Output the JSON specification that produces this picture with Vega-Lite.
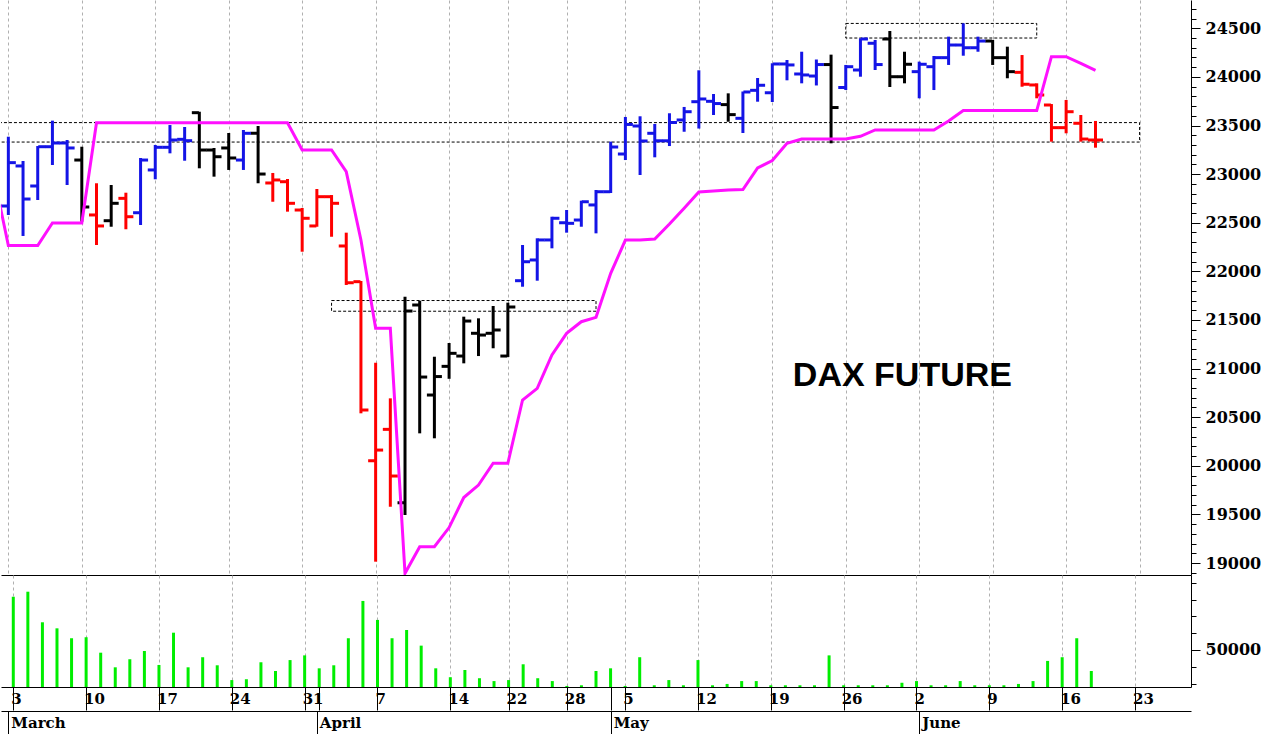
{
  "$schema": "https://vega.github.io/schema/vega-lite/v6.json",
  "padding": 0,
  "background": "white",
  "spacing": 0,
  "config": {"view": {"stroke": null}, "concat": {"spacing": 0}, "axis": {"domainColor": "black", "tickColor": "black"}},
  "datasets": {
    "bars": [
      {"i":0,"date":"2025-03-03","o":22672,"h":23385,"l":22580,"c":23118,"v":81700,"t":"up"},
      {"i":1,"date":"2025-03-04","o":23084,"h":23135,"l":22364,"c":22744,"v":84700,"t":"up"},
      {"i":2,"date":"2025-03-05","o":22878,"h":23289,"l":22734,"c":23282,"v":66500,"t":"up"},
      {"i":3,"date":"2025-03-06","o":23282,"h":23550,"l":23094,"c":23320,"v":62900,"t":"up"},
      {"i":4,"date":"2025-03-07","o":23320,"h":23351,"l":22888,"c":23269,"v":57000,"t":"up"},
      {"i":5,"date":"2025-03-10","o":23145,"h":23282,"l":22511,"c":22662,"v":57600,"t":"flat"},
      {"i":6,"date":"2025-03-11","o":22580,"h":22906,"l":22271,"c":22467,"v":48400,"t":"down"},
      {"i":7,"date":"2025-03-12","o":22521,"h":22888,"l":22459,"c":22700,"v":39700,"t":"flat"},
      {"i":8,"date":"2025-03-13","o":22751,"h":22809,"l":22433,"c":22562,"v":44500,"t":"down"},
      {"i":9,"date":"2025-03-14","o":22603,"h":23166,"l":22477,"c":23145,"v":49400,"t":"up"},
      {"i":10,"date":"2025-03-17","o":23043,"h":23300,"l":22947,"c":23276,"v":41100,"t":"up"},
      {"i":11,"date":"2025-03-18","o":23276,"h":23505,"l":23214,"c":23351,"v":60300,"t":"up"},
      {"i":12,"date":"2025-03-19","o":23358,"h":23485,"l":23138,"c":23344,"v":39700,"t":"up"},
      {"i":13,"date":"2025-03-20","o":23632,"h":23642,"l":23060,"c":23248,"v":45700,"t":"flat"},
      {"i":14,"date":"2025-03-21","o":23248,"h":23269,"l":22974,"c":23179,"v":40900,"t":"flat"},
      {"i":15,"date":"2025-03-24","o":23269,"h":23423,"l":23043,"c":23166,"v":32100,"t":"flat"},
      {"i":16,"date":"2025-03-25","o":23145,"h":23454,"l":23043,"c":23420,"v":32600,"t":"up"},
      {"i":17,"date":"2025-03-26","o":23420,"h":23495,"l":22906,"c":23001,"v":42700,"t":"flat"},
      {"i":18,"date":"2025-03-27","o":22909,"h":23012,"l":22716,"c":22940,"v":37500,"t":"down"},
      {"i":19,"date":"2025-03-28","o":22922,"h":22950,"l":22614,"c":22700,"v":44000,"t":"down"},
      {"i":20,"date":"2025-03-31","o":22631,"h":22652,"l":22202,"c":22546,"v":46800,"t":"down"},
      {"i":21,"date":"2025-04-01","o":22467,"h":22847,"l":22459,"c":22768,"v":39100,"t":"down"},
      {"i":22,"date":"2025-04-02","o":22768,"h":22785,"l":22356,"c":22700,"v":40900,"t":"down"},
      {"i":23,"date":"2025-04-03","o":22261,"h":22398,"l":21860,"c":21883,"v":57000,"t":"down"},
      {"i":24,"date":"2025-04-04","o":21894,"h":21901,"l":20540,"c":20574,"v":79200,"t":"down"},
      {"i":25,"date":"2025-04-07","o":20052,"h":21060,"l":19014,"c":20162,"v":67900,"t":"down"},
      {"i":26,"date":"2025-04-08","o":20375,"h":20694,"l":19579,"c":19895,"v":57000,"t":"down"},
      {"i":27,"date":"2025-04-09","o":19620,"h":21739,"l":19494,"c":21592,"v":61900,"t":"flat"},
      {"i":28,"date":"2025-04-10","o":21654,"h":21698,"l":20334,"c":20913,"v":52600,"t":"flat"},
      {"i":29,"date":"2025-04-11","o":20728,"h":21122,"l":20283,"c":20918,"v":39100,"t":"flat"},
      {"i":30,"date":"2025-04-14","o":21023,"h":21263,"l":20895,"c":21157,"v":33800,"t":"flat"},
      {"i":31,"date":"2025-04-15","o":21129,"h":21534,"l":21054,"c":21489,"v":38100,"t":"flat"},
      {"i":32,"date":"2025-04-16","o":21363,"h":21517,"l":21129,"c":21345,"v":33200,"t":"flat"},
      {"i":33,"date":"2025-04-17","o":21363,"h":21644,"l":21209,"c":21397,"v":31500,"t":"flat"},
      {"i":34,"date":"2025-04-22","o":21129,"h":21678,"l":21120,"c":21633,"v":32100,"t":"flat"},
      {"i":35,"date":"2025-04-23","o":21904,"h":22271,"l":21842,"c":22099,"v":41500,"t":"up"},
      {"i":36,"date":"2025-04-24","o":22117,"h":22340,"l":21904,"c":22323,"v":33200,"t":"up"},
      {"i":37,"date":"2025-04-25","o":22323,"h":22562,"l":22237,"c":22546,"v":31500,"t":"up"},
      {"i":38,"date":"2025-04-28","o":22500,"h":22631,"l":22398,"c":22494,"v":28600,"t":"up"},
      {"i":39,"date":"2025-04-29","o":22528,"h":22727,"l":22459,"c":22716,"v":29000,"t":"up"},
      {"i":40,"date":"2025-04-30","o":22683,"h":22837,"l":22391,"c":22819,"v":37500,"t":"up"},
      {"i":41,"date":"2025-05-02","o":22819,"h":23334,"l":22806,"c":23279,"v":39100,"t":"up"},
      {"i":42,"date":"2025-05-05","o":23207,"h":23588,"l":23145,"c":23511,"v":28600,"t":"up"},
      {"i":43,"date":"2025-05-06","o":23495,"h":23595,"l":22991,"c":23341,"v":45700,"t":"up"},
      {"i":44,"date":"2025-05-07","o":23420,"h":23516,"l":23173,"c":23343,"v":29000,"t":"up"},
      {"i":45,"date":"2025-05-08","o":23343,"h":23626,"l":23289,"c":23531,"v":32100,"t":"up"},
      {"i":46,"date":"2025-05-09","o":23557,"h":23691,"l":23436,"c":23642,"v":29000,"t":"up"},
      {"i":47,"date":"2025-05-12","o":23745,"h":24068,"l":23469,"c":23773,"v":44000,"t":"up"},
      {"i":48,"date":"2025-05-13","o":23749,"h":23824,"l":23608,"c":23726,"v":29000,"t":"up"},
      {"i":49,"date":"2025-05-14","o":23715,"h":23831,"l":23539,"c":23612,"v":29800,"t":"flat"},
      {"i":50,"date":"2025-05-15","o":23574,"h":23850,"l":23423,"c":23845,"v":31500,"t":"up"},
      {"i":51,"date":"2025-05-16","o":23862,"h":23989,"l":23745,"c":23914,"v":31500,"t":"up"},
      {"i":52,"date":"2025-05-19","o":23837,"h":24140,"l":23742,"c":24133,"v":29000,"t":"up"},
      {"i":53,"date":"2025-05-20","o":24133,"h":24174,"l":23965,"c":24123,"v":29000,"t":"up"},
      {"i":54,"date":"2025-05-21","o":24030,"h":24259,"l":23934,"c":24020,"v":29000,"t":"up"},
      {"i":55,"date":"2025-05-22","o":24009,"h":24179,"l":23912,"c":24127,"v":29000,"t":"up"},
      {"i":56,"date":"2025-05-23","o":24127,"h":24229,"l":23317,"c":23685,"v":46800,"t":"flat"},
      {"i":57,"date":"2025-05-26","o":23891,"h":24123,"l":23865,"c":24105,"v":29000,"t":"up"},
      {"i":58,"date":"2025-05-27","o":24071,"h":24397,"l":24002,"c":24390,"v":29000,"t":"up"},
      {"i":59,"date":"2025-05-28","o":24346,"h":24380,"l":24071,"c":24127,"v":29000,"t":"up"},
      {"i":60,"date":"2025-05-29","o":24390,"h":24472,"l":23896,"c":24002,"v":29000,"t":"flat"},
      {"i":61,"date":"2025-05-30","o":24002,"h":24259,"l":23934,"c":24130,"v":30500,"t":"flat"},
      {"i":62,"date":"2025-06-02","o":24054,"h":24157,"l":23780,"c":24130,"v":31500,"t":"up"},
      {"i":63,"date":"2025-06-03","o":24105,"h":24215,"l":23865,"c":24198,"v":29000,"t":"up"},
      {"i":64,"date":"2025-06-04","o":24198,"h":24414,"l":24123,"c":24328,"v":29000,"t":"up"},
      {"i":65,"date":"2025-06-05","o":24328,"h":24551,"l":24218,"c":24300,"v":31500,"t":"up"},
      {"i":66,"date":"2025-06-06","o":24300,"h":24414,"l":24259,"c":24369,"v":29000,"t":"up"},
      {"i":67,"date":"2025-06-09","o":24369,"h":24380,"l":24123,"c":24198,"v":29000,"t":"flat"},
      {"i":68,"date":"2025-06-10","o":24198,"h":24311,"l":23986,"c":24054,"v":29000,"t":"flat"},
      {"i":69,"date":"2025-06-11","o":24047,"h":24225,"l":23899,"c":23924,"v":29800,"t":"down"},
      {"i":70,"date":"2025-06-12","o":23917,"h":23934,"l":23780,"c":23814,"v":31500,"t":"down"},
      {"i":71,"date":"2025-06-13","o":23711,"h":23721,"l":23334,"c":23478,"v":43500,"t":"down"},
      {"i":72,"date":"2025-06-16","o":23478,"h":23763,"l":23420,"c":23642,"v":45700,"t":"down"},
      {"i":73,"date":"2025-06-17","o":23523,"h":23608,"l":23334,"c":23361,"v":57000,"t":"down"},
      {"i":74,"date":"2025-06-18","o":23351,"h":23547,"l":23272,"c":23351,"v":37500,"t":"down"}
    ],
    "stop": [
      {"i":-1,"s":22991},{"i":0,"s":22266},{"i":1,"s":22266},{"i":2,"s":22266},{"i":3,"s":22497},{"i":4,"s":22497},{"i":5,"s":22497},
      {"i":6,"s":23529},{"i":7,"s":23529},{"i":8,"s":23529},{"i":9,"s":23529},{"i":10,"s":23529},{"i":11,"s":23529},{"i":12,"s":23529},
      {"i":13,"s":23529},{"i":14,"s":23529},{"i":15,"s":23529},{"i":16,"s":23529},{"i":17,"s":23529},{"i":18,"s":23529},{"i":19,"s":23529},
      {"i":20,"s":23248},{"i":21,"s":23248},{"i":22,"s":23248},{"i":23,"s":23025},{"i":24,"s":22322},{"i":25,"s":21414},{"i":26,"s":21414},
      {"i":27,"s":18894},{"i":28,"s":19168},{"i":29,"s":19168},{"i":30,"s":19365},{"i":31,"s":19674},{"i":32,"s":19802},{"i":33,"s":20026},
      {"i":34,"s":20026},{"i":35,"s":20677},{"i":36,"s":20797},{"i":37,"s":21140},{"i":38,"s":21363},{"i":39,"s":21482},{"i":40,"s":21527},
      {"i":41,"s":21980},{"i":42,"s":22322},{"i":43,"s":22322},{"i":44,"s":22333},{"i":45,"s":22487},{"i":46,"s":22649},{"i":47,"s":22816},
      {"i":48,"s":22826},{"i":49,"s":22837},{"i":50,"s":22842},{"i":51,"s":23063},{"i":52,"s":23140},{"i":53,"s":23317},{"i":54,"s":23361},
      {"i":55,"s":23361},{"i":56,"s":23361},{"i":57,"s":23361},{"i":58,"s":23389},{"i":59,"s":23454},{"i":60,"s":23454},{"i":61,"s":23454},
      {"i":62,"s":23454},{"i":63,"s":23454},{"i":64,"s":23546},{"i":65,"s":23654},{"i":66,"s":23654},{"i":67,"s":23654},{"i":68,"s":23654},
      {"i":69,"s":23654},{"i":70,"s":23654},{"i":71,"s":24208},{"i":72,"s":24208},{"i":73,"s":24140},{"i":74,"s":24068}
    ],
    "boxes": [
      {"x1":-2,"x2":77,"p1":23330,"p2":23530},
      {"x1":22,"x2":40,"p1":21590,"p2":21700},
      {"x1":57,"x2":70,"p1":24400,"p2":24550}
    ],
    "months": [
      {"i":0,"m":"March"},{"i":21,"m":"April"},{"i":41,"m":"May"},{"i":62,"m":"June"}
    ]
  },
  "vconcat": [
    {
      "width": 1190,
      "height": 575,
      "resolve": {"scale": {"y": "shared", "x": "shared"}, "axis": {"y": "independent"}},
      "layer": [
        {
          "data": {"name": "boxes"},
          "mark": {"type": "rect", "filled": false, "color": "black", "strokeDash": [3, 2], "strokeWidth": 1, "clip": true},
          "encoding": {
            "x": {"field": "x1", "type": "quantitative", "scale": {"domain": [-0.5, 80.5], "nice": false, "zero": false},
                  "axis": {"values": [0,5,10,15,20,25,30,34,38,42,47,52,57,62,67,72,77], "grid": true, "gridColor": "#b0b0b0", "gridDash": [3,3], "ticks": false, "labels": false, "domain": true, "domainColor": "black", "title": null}},
            "x2": {"field": "x2"},
            "y": {"field": "p1", "type": "quantitative", "scale": {"domain": [18877, 24791], "nice": false, "zero": false},
                  "axis": {"orient": "right", "title": null, "grid": false,
                           "values": [19000,19500,20000,20500,21000,21500,22000,22500,23000,23500,24000,24500],
                           "format": "d", "tickSize": 9,
                           "labelPadding": 5, "labelFont": "DejaVu Serif", "labelFontWeight": "bold", "labelFontSize": 16, "labelColor": "black",
                           "labelOverlap": false, "labelBound": false}},
            "y2": {"field": "p2"}
          }
        },
        {
          "data": {"name": "bars"},
          "mark": {"type": "rule", "strokeWidth": 3},
          "encoding": {
            "x": {"field": "i", "type": "quantitative"},
            "y": {"field": "l", "type": "quantitative",
                  "axis": {"orient": "right", "title": null, "grid": false, "labels": false, "domain": false, "tickSize": 5,
                           "values": [18900,19000,19100,19200,19300,19400,19500,19600,19700,19800,19900,20000,20100,20200,20300,20400,20500,20600,20700,20800,20900,21000,21100,21200,21300,21400,21500,21600,21700,21800,21900,22000,22100,22200,22300,22400,22500,22600,22700,22800,22900,23000,23100,23200,23300,23400,23500,23600,23700,23800,23900,24000,24100,24200,24300,24400,24500,24600,24700]}},
            "y2": {"field": "h"},
            "color": {"field": "t", "type": "nominal", "scale": {"domain": ["up", "down", "flat"], "range": ["#1414e6", "#ff0000", "#000000"]}, "legend": null}
          }
        },
        {
          "data": {"name": "bars"},
          "mark": {"type": "tick", "orient": "horizontal", "thickness": 3, "size": 7, "xOffset": -4, "opacity": 1},
          "encoding": {
            "x": {"field": "i", "type": "quantitative"},
            "y": {"field": "o", "type": "quantitative", "axis": null},
            "color": {"field": "t", "type": "nominal", "legend": null}
          }
        },
        {
          "data": {"name": "bars"},
          "mark": {"type": "tick", "orient": "horizontal", "thickness": 3, "size": 7, "xOffset": 4, "opacity": 1},
          "encoding": {
            "x": {"field": "i", "type": "quantitative"},
            "y": {"field": "c", "type": "quantitative", "axis": null},
            "color": {"field": "t", "type": "nominal", "legend": null}
          }
        },
        {
          "data": {"name": "stop"},
          "mark": {"type": "line", "color": "#ff10ff", "strokeWidth": 3, "clip": true},
          "encoding": {
            "x": {"field": "i", "type": "quantitative"},
            "y": {"field": "s", "type": "quantitative", "axis": null}
          }
        },
        {
          "data": {"values": [{}]},
          "mark": {"type": "text", "text": "DAX FUTURE", "font": "Liberation Sans", "fontWeight": "bold", "fontSize": 34, "align": "left", "baseline": "middle", "color": "black"},
          "encoding": {
            "x": {"datum": 53.4, "type": "quantitative"},
            "y": {"datum": 20923, "type": "quantitative", "axis": null}
          }
        }
      ]
    },
    {
      "width": 1190,
      "height": 112,
      "data": {"name": "bars"},
      "mark": {"type": "bar", "size": 3, "color": "#00ee00", "clip": true},
      "encoding": {
        "x": {"field": "i", "type": "quantitative", "scale": {"domain": [-0.5, 80.5], "nice": false, "zero": false},
              "axis": {"values": [0,5,10,15,20,21,25,30,34,38,41,42,47,52,57,62,67,72,77],
                       "labelExpr": "datum.value==0?'3':datum.value==5?'10':datum.value==10?'17':datum.value==15?'24':datum.value==20?'31':datum.value==25?'7':datum.value==30?'14':datum.value==34?'22':datum.value==38?'28':datum.value==42?'5':datum.value==47?'12':datum.value==52?'19':datum.value==57?'26':datum.value==62?'2':datum.value==67?'9':datum.value==72?'16':datum.value==77?'23':''",
                       "grid": true, "gridColor": "#b0b0b0", "gridDash": [3,3],
                       "gridOpacity": {"condition": {"test": "datum.value == 21 || datum.value == 41", "value": 0}, "value": 1},
                       "tickSize": 23, "tickColor": "black", "domainColor": "black",
                       "labelAlign": "left", "labelBaseline": "top", "labelPadding": -19, "labelOffset": -2.5,
                       "labelFont": "DejaVu Serif", "labelFontWeight": "bold", "labelFontSize": 15, "labelColor": "black",
                       "labelOverlap": false, "labelFlush": false, "labelBound": false, "title": null}},
        "y": {"field": "v", "type": "quantitative", "scale": {"domain": [27976, 94643], "nice": false, "zero": false},
              "axis": {"orient": "right", "title": null, "grid": false,
                       "values": [30000,40000,50000,60000,70000,80000,90000],
                       "labelExpr": "datum.value === 50000 ? '50000' : ''",
                       "tickSize": {"condition": {"test": "datum.value === 50000", "value": 9}, "value": 5},
                       "labelFontSize": {"condition": {"test": "datum.value === 50000", "value": 16}, "value": 0},
                       "labelPadding": 5, "labelFont": "DejaVu Serif", "labelFontWeight": "bold", "labelColor": "black",
                       "labelOverlap": false, "labelBound": false}}
      }
    },
    {
      "width": 1190,
      "height": 24,
      "data": {"name": "months"},
      "mark": {"type": "text", "align": "left", "dx": 3, "baseline": "middle", "font": "DejaVu Serif", "fontWeight": "bold", "fontSize": 15, "color": "black"},
      "encoding": {
        "x": {"field": "i", "type": "quantitative", "scale": {"domain": [-0.5, 80.5], "nice": false, "zero": false},
              "axis": {"orient": "top", "values": [0,21,41,62], "grid": true, "gridColor": "black", "gridOpacity": 1, "ticks": false, "labels": false, "domain": true, "domainColor": "black", "title": null}},
        "text": {"field": "m"}
      }
    }
  ]
}
